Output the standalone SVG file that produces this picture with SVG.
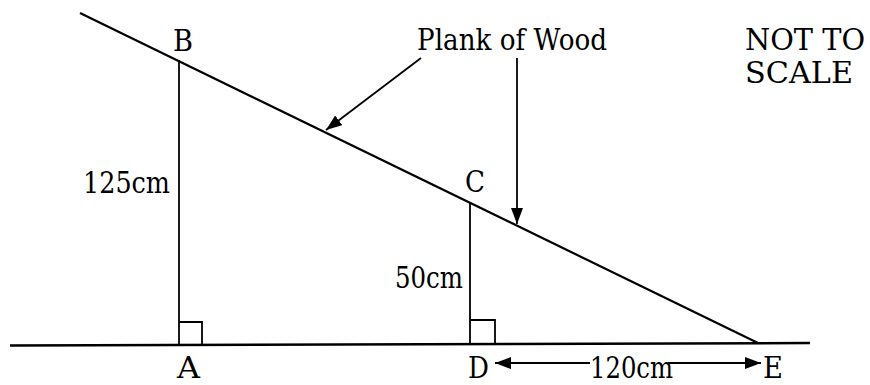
<svg xmlns="http://www.w3.org/2000/svg" width="870" height="385" viewBox="0 0 870 385">
<style>
text{font-family:'DejaVu Serif','Liberation Serif',serif;font-size:29px;fill:#000}
.ln{stroke:#000;fill:none;stroke-linecap:butt}
</style>
<defs>
<marker id="ah" viewBox="0 0 16 12" refX="16" refY="6" markerWidth="16" markerHeight="12" markerUnits="userSpaceOnUse" orient="auto">
<path d="M0,0 L16,6 L0,12 z" fill="#000"/>
</marker>
</defs>
<rect width="870" height="385" fill="#fff"/>
<g id="ground"><line class="ln" x1="10" y1="345.5" x2="810" y2="343" stroke-width="2.5"/></g>
<g id="plank"><line class="ln" x1="80" y1="13" x2="758" y2="343" stroke-width="2.2"/></g>
<g id="AB"><line class="ln" x1="179" y1="60" x2="179" y2="345" stroke-width="1.8"/><path class="ln" d="M179,322 H202 V345" stroke-width="1.8"/></g>
<g id="DC"><line class="ln" x1="470" y1="203" x2="470" y2="344" stroke-width="1.8"/><path class="ln" d="M470,320 H495 V344" stroke-width="1.8"/></g>
<g id="connectors">
<line class="ln" x1="421" y1="58" x2="326" y2="130" stroke-width="1.8" marker-end="url(#ah)"/>
<line class="ln" x1="517" y1="58" x2="517" y2="224" stroke-width="1.8" marker-end="url(#ah)"/>
<line class="ln" x1="590" y1="363" x2="495" y2="363" stroke-width="1.8" marker-end="url(#ah)"/>
<line class="ln" x1="668" y1="363" x2="761" y2="363" stroke-width="1.8" marker-end="url(#ah)"/>
</g>
<g id="labels">
<text x="173" y="51" textLength="20" lengthAdjust="spacingAndGlyphs">B</text>
<text x="83" y="193" textLength="87" lengthAdjust="spacingAndGlyphs">125cm</text>
<text x="465" y="192" textLength="20" lengthAdjust="spacingAndGlyphs">C</text>
<text x="395" y="288" textLength="68" lengthAdjust="spacingAndGlyphs">50cm</text>
<text x="177" y="378" textLength="23" lengthAdjust="spacingAndGlyphs">A</text>
<text x="468" y="378" textLength="21" lengthAdjust="spacingAndGlyphs">D</text>
<text x="590" y="378" textLength="83" lengthAdjust="spacingAndGlyphs">120cm</text>
<text x="763" y="378" textLength="20" lengthAdjust="spacingAndGlyphs">E</text>
<text x="417" y="50" textLength="190" lengthAdjust="spacingAndGlyphs">Plank of Wood</text>
<text x="745" y="50" textLength="120" lengthAdjust="spacingAndGlyphs">NOT TO</text>
<text x="745" y="83" textLength="108" lengthAdjust="spacingAndGlyphs">SCALE</text>
</g>
</svg>
